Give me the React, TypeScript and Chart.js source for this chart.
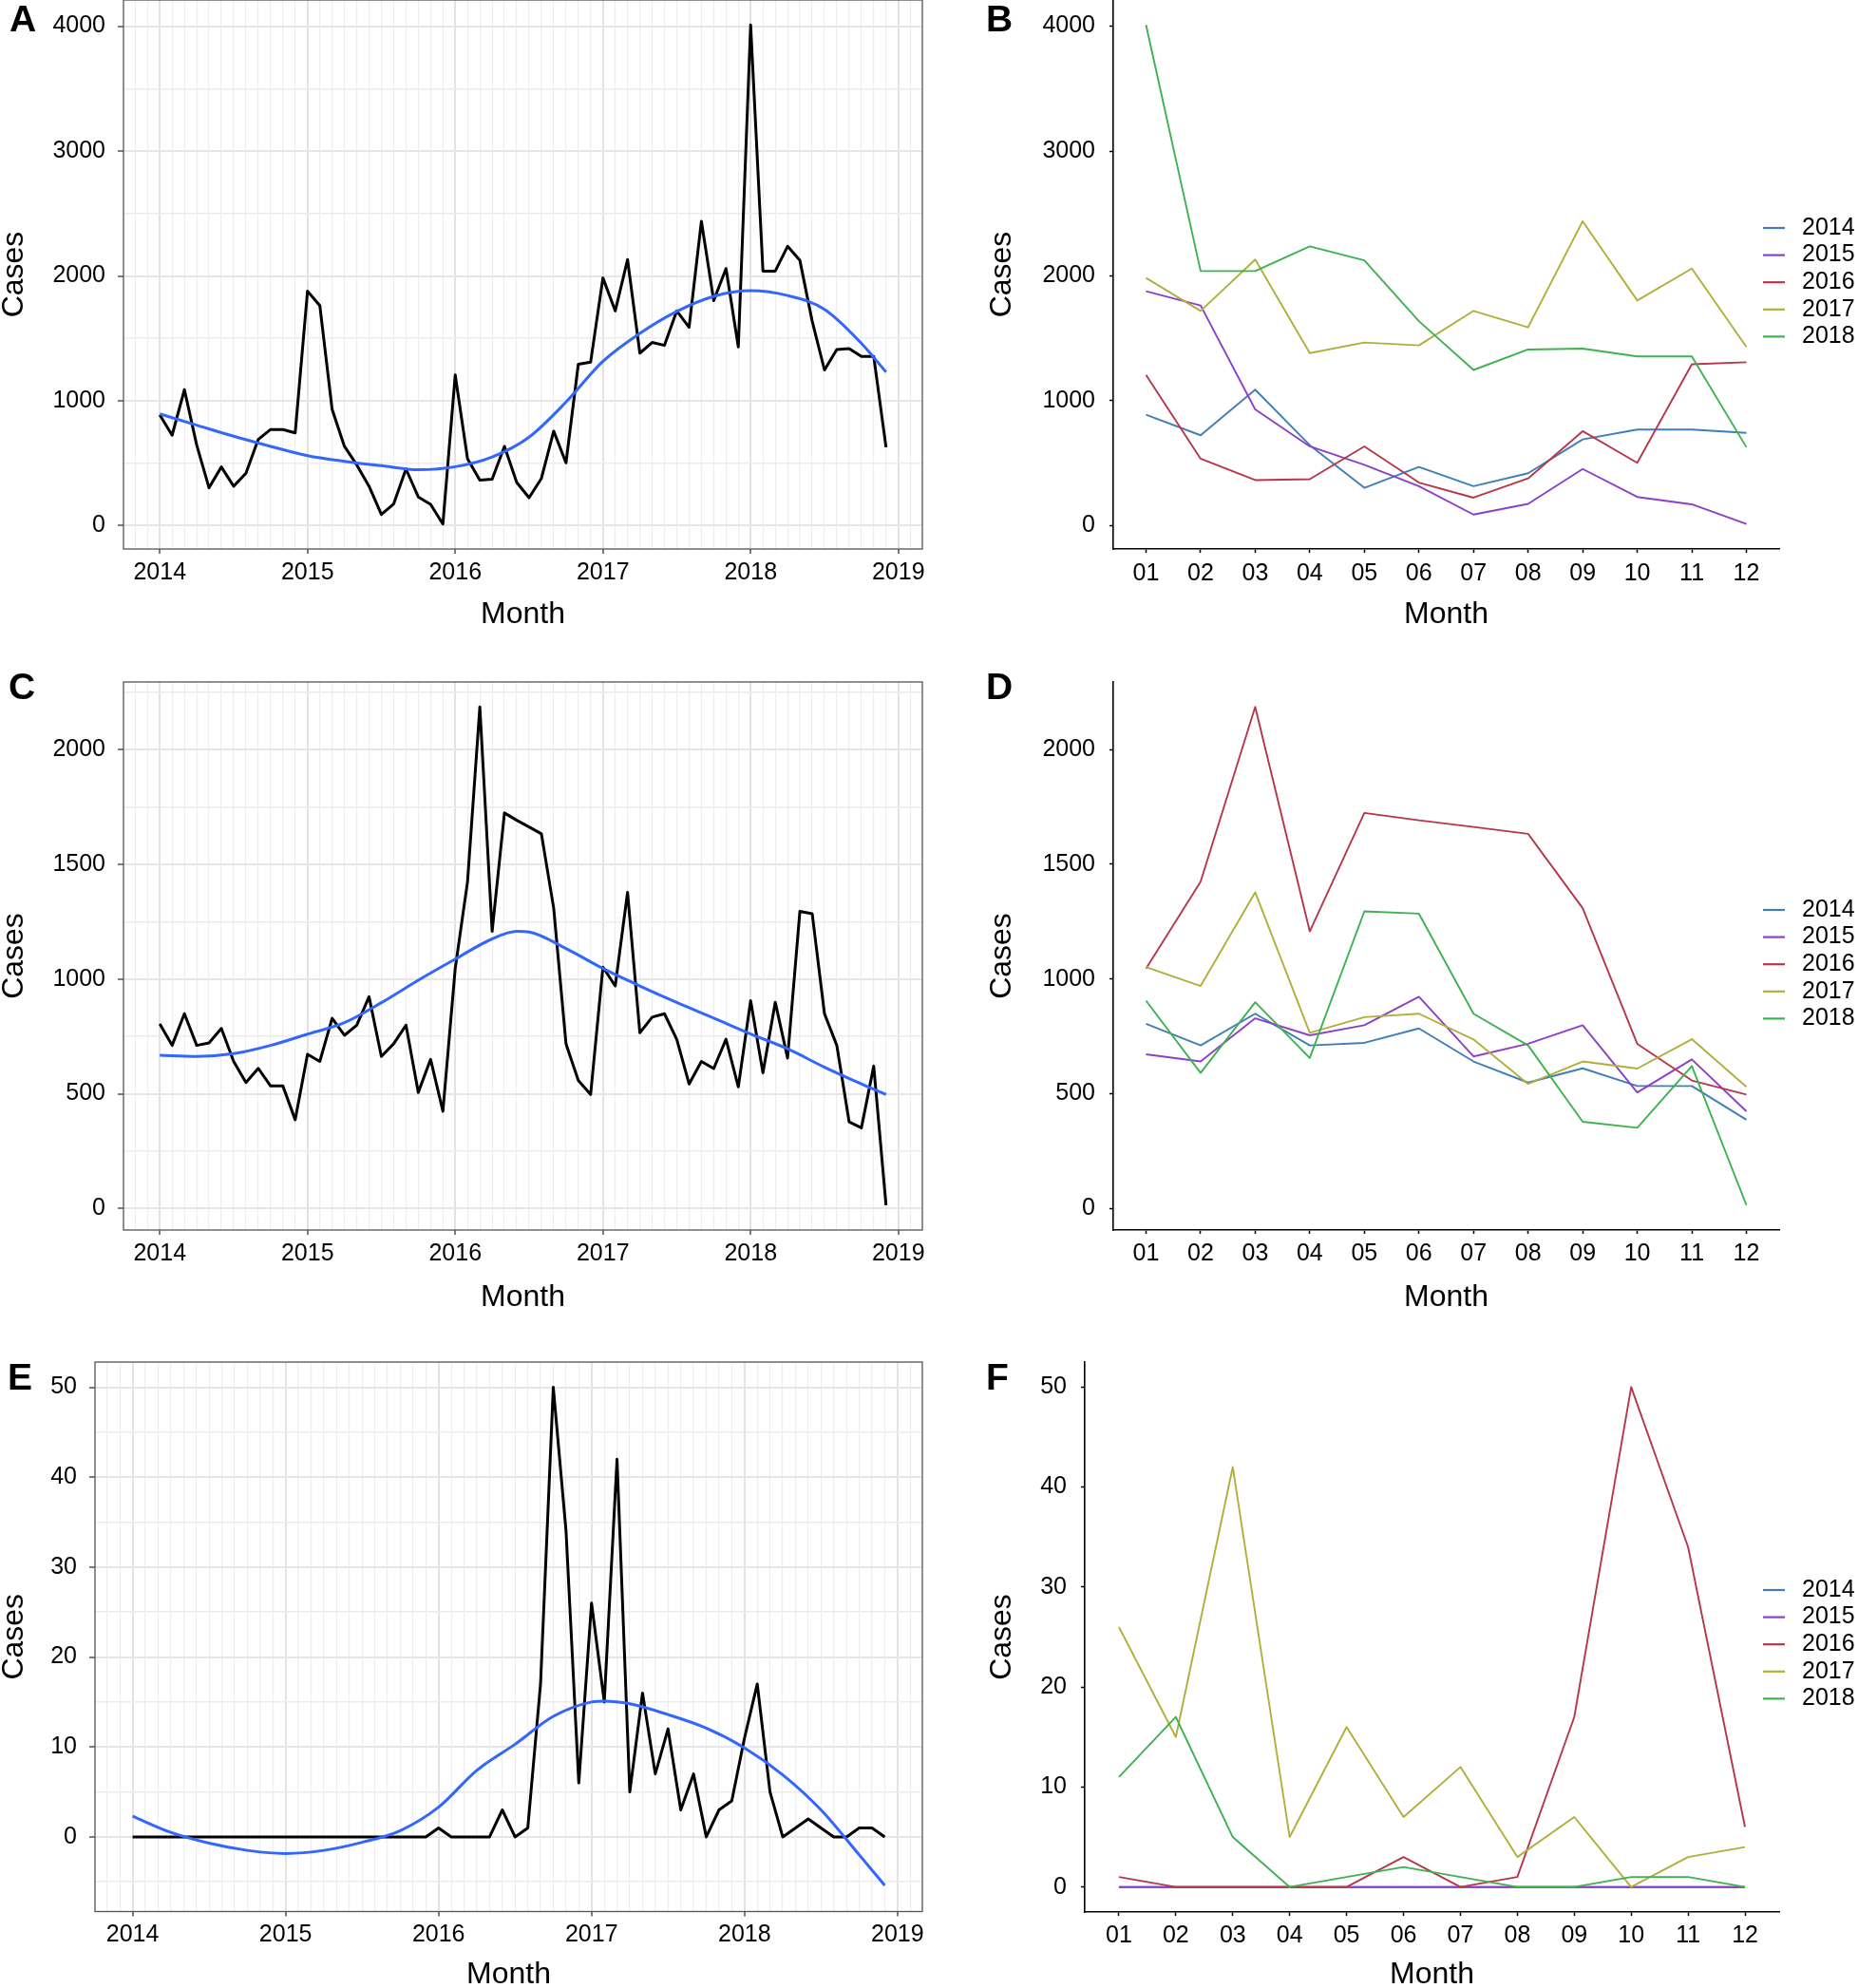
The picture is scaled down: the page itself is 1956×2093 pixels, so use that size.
import React, { useEffect, useRef } from 'react';
import { Chart, registerables } from 'chart.js';

Chart.register(...registerables);

const FONT = '"Liberation Sans", Arial, Helvetica, sans-serif';
Chart.defaults.font.family = FONT;

// ---------------- categories / labels ----------------
const YEARS = ['2014', '2015', '2016', '2017', '2018'];
const MONTH_LABELS = ['01', '02', '03', '04', '05', '06', '07', '08', '09', '10', '11', '12'];
const FIRST_YEAR = 2014;
const YEAR_COLORS = ['#3f7eb6', '#8b40c6', '#b5374c', '#b0af3c', '#3eb24f'];

// ---------------- Panels A / B (monthly cases) ----------------
const AB_2014 = [888, 724, 1089, 645, 303, 470, 316, 420, 691, 770, 770, 743];
const AB_2015 = [1878, 1763, 931, 635, 487, 316, 89, 174, 454, 230, 171, 13];
const AB_2016 = [1207, 536, 365, 372, 635, 345, 224, 378, 757, 503, 1293, 1309];
const AB_2017 = [1984, 1720, 2131, 1382, 1467, 1444, 1720, 1589, 2438, 1803, 2059, 1431];
const AB_2018 = [4010, 2039, 2039, 2237, 2125, 1638, 1247, 1411, 1418, 1355, 1355, 628];
// smooth trend (month index since Jan 2014 -> cases)
const AB_SMOOTH_MONTH = [0, 3, 6, 9, 12, 15, 18, 21, 24, 27, 30, 33, 36, 39, 42, 45, 48, 51, 54, 57, 59];
const AB_SMOOTH_CASES = [895, 805, 716, 635, 560, 515, 480, 448, 472, 550, 709, 990, 1316, 1540, 1716, 1837, 1882, 1843, 1732, 1460, 1230];

// ---------------- Panels C / D ----------------
const CD_2014 = [805, 711, 849, 711, 722, 785, 641, 549, 611, 534, 534, 387];
const CD_2015 = [672, 641, 829, 755, 799, 923, 663, 718, 799, 506, 650, 424];
const CD_2016 = [1046, 1424, 2186, 1208, 1724, 1692, 1663, 1633, 1309, 718, 558, 497];
const CD_2017 = [1052, 970, 1378, 766, 834, 849, 737, 543, 641, 610, 738, 530];
const CD_2018 = [906, 591, 899, 656, 1295, 1285, 849, 711, 378, 352, 621, 15];
const CD_SMOOTH_MONTH = [0, 3, 6, 9, 12, 15, 18, 21, 24, 27, 29, 30, 33, 36, 39, 42, 45, 48, 51, 54, 57, 59];
const CD_SMOOTH_CASES = [668, 663, 675, 711, 760, 810, 897, 995, 1087, 1175, 1208, 1205, 1133, 1046, 970, 898, 830, 761, 696, 616, 543, 497];

// ---------------- Panels E / F ----------------
const EF_2014 = [0, 0, 0, 0, 0, 0, 0, 0, 0, 0, 0, 0];
const EF_2015 = [0, 0, 0, 0, 0, 0, 0, 0, 0, 0, 0, 0];
const EF_2016 = [1, 0, 0, 0, 0, 3, 0, 1, 17, 50, 34, 6];
const EF_2017 = [26, 15, 42, 5, 16, 7, 12, 3, 7, 0, 3, 4];
const EF_2018 = [11, 17, 5, 0, 1, 2, 1, 0, 0, 1, 1, 0];
const EF_SMOOTH_MONTH = [0, 3, 6, 9, 12, 15, 18, 21, 24, 27, 30, 33, 36, 37, 39, 42, 45, 48, 51, 54, 57, 59];
const EF_SMOOTH_CASES = [2.3, 0.5, -0.7, -1.5, -1.85, -1.5, -0.6, 0.7, 3.3, 7.4, 10.3, 13.4, 15.0, 15.1, 14.8, 13.6, 12.1, 9.9, 6.9, 3.0, -2.0, -5.4];

// ---------------- axis ranges ----------------
const TIME_X_MIN = -2.95;
const TIME_X_MAX = 61.95;
const MONTH_X_MIN = 0.4;
const MONTH_X_MAX = 12.6;
const AB_Y = [-187, 4210];
const CD_Y = [-93.6, 2294.6];
const E_Y = [-8.3, 52.8];
const F_Y = [-2.5, 52.5];

// ---------------- helpers ----------------
type Box = {
  canvasLeft: number; canvasTop: number; canvasW: number; canvasH: number;
  plotLeft: number; plotTop: number; plotRight: number; plotBottom: number;
  xTickPad: number; xTitleCenter: number;
};

const isMult = (v: number, step: number) => Math.abs(v / step - Math.round(v / step)) < 1e-6;
const tv = (c: any): number | null => (c && c.tick ? c.tick.value : null);

// regular tick positions inside [min, max]
function stepTicks(min: number, max: number, step: number) {
  const out: { value: number }[] = [];
  const start = Math.ceil(min / step - 1e-9);
  const end = Math.floor(max / step + 1e-9);
  for (let k = start; k <= end; k++) out.push({ value: Math.round(k * step * 1e6) / 1e6 });
  return out;
}

const sideLegend = {
  id: 'sideLegend',
  afterDraw(chart: any, _args: any, opts: any) {
    if (!opts || !opts.show) return;
    const { ctx, chartArea } = chart;
    ctx.save();
    ctx.font = `25px ${FONT}`;
    ctx.textBaseline = 'middle';
    ctx.textAlign = 'left';
    chart.data.datasets.forEach((ds: any, i: number) => {
      const y = chartArea.top + opts.firstRow + i * opts.rowGap;
      ctx.strokeStyle = ds.borderColor;
      ctx.lineWidth = opts.lineWidth;
      ctx.beginPath();
      ctx.moveTo(opts.keyLeft, y);
      ctx.lineTo(opts.keyRight, y);
      ctx.stroke();
      ctx.fillStyle = '#000';
      ctx.fillText(ds.label, opts.textLeft, y);
    });
    ctx.restore();
  },
};

const panelBorder = {
  id: 'panelBorder',
  afterDraw(chart: any, _args: any, opts: any) {
    if (!opts || !opts.show) return;
    const { ctx } = chart;
    const { left, top, right, bottom } = chart.chartArea;
    ctx.save();
    ctx.strokeStyle = opts.color;
    ctx.lineWidth = opts.width;
    ctx.strokeRect(left, top, right - left, bottom - top);
    ctx.restore();
  },
};

function layoutFor(b: Box) {
  return {
    padding: {
      left: 0,
      top: b.plotTop - b.canvasTop,
      right: b.canvasLeft + b.canvasW - b.plotRight,
      bottom: 0,
    },
  };
}

function xTitle(b: Box) {
  const lh = 0.85;
  return {
    display: true,
    text: 'Month',
    color: '#000',
    font: { family: FONT, size: 32, lineHeight: lh },
    padding: { top: 0, bottom: b.canvasTop + b.canvasH - b.xTitleCenter - (32 * lh) / 2 },
  };
}

function yTitle() {
  return {
    display: true,
    text: 'Cases',
    color: '#000',
    font: { family: FONT, size: 32, lineHeight: 0.85 },
    padding: { top: 1.2, bottom: 0 },
  };
}

function timeConfig(b: Box, years: number[][], smM: number[], smV: number[], yr: number[], yStep: number, yLabelStep: number): any {
  const series = years.flat().map((v, i) => ({ x: i, y: v }));
  const smooth = smM.map((m, i) => ({ x: m, y: smV[i] }));
  return {
    type: 'line',
    data: {
      datasets: [
        { label: 'Cases', data: series, borderColor: '#000', backgroundColor: '#000', borderWidth: 3, pointRadius: 0, tension: 0, borderJoinStyle: 'round', fill: false, order: 2 },
        { label: 'Trend', data: smooth, borderColor: '#3366FF', backgroundColor: '#3366FF', borderWidth: 3, pointRadius: 0, cubicInterpolationMode: 'monotone', fill: false, order: 1 },
      ],
    },
    options: {
      responsive: false,
      maintainAspectRatio: false,
      animation: false,
      devicePixelRatio: 1,
      events: [],
      layout: layoutFor(b),
      plugins: {
        legend: { display: false },
        tooltip: { enabled: false },
        panelBorder: { show: true, color: '#555', width: 1.3 },
        sideLegend: { show: false },
      },
      scales: {
        x: {
          type: 'linear',
          min: TIME_X_MIN,
          max: TIME_X_MAX,
          afterBuildTicks: (s: any) => { s.ticks = stepTicks(TIME_X_MIN, TIME_X_MAX, 1); },
          ticks: {
            autoSkip: false,
            maxRotation: 0,
            minRotation: 0,
            padding: b.xTickPad,
            color: '#000',
            font: { family: FONT, size: 25 },
            callback: (v: any) => {
              const m = Math.round(Number(v));
              return m % 12 === 0 ? String(FIRST_YEAR + m / 12) : '';
            },
          },
          grid: {
            color: (c: any) => { const v = tv(c); return v !== null && isMult(v, 12) ? '#e3e3e3' : '#eeeeee'; },
            lineWidth: (c: any) => { const v = tv(c); return v !== null && isMult(v, 12) ? 2 : 1.2; },
            tickColor: (c: any) => { const v = tv(c); return v !== null && isMult(v, 12) ? '#444' : 'rgba(0,0,0,0)'; },
            tickLength: 5,
            tickWidth: 1.4,
            drawTicks: true,
          },
          border: { display: false },
          title: xTitle(b),
          afterFit: (s: any) => { s.height = b.canvasTop + b.canvasH - b.plotBottom; },
        },
        y: {
          type: 'linear',
          min: yr[0],
          max: yr[1],
          afterBuildTicks: (s: any) => { s.ticks = stepTicks(yr[0], yr[1], yStep); },
          ticks: {
            padding: 13,
            color: '#000',
            font: { family: FONT, size: 25 },
            callback: (v: any) => (isMult(Number(v), yLabelStep) ? String(Math.round(Number(v))) : ''),
          },
          grid: {
            color: (c: any) => { const v = tv(c); return v !== null && isMult(v, yLabelStep) ? '#e6e6e6' : '#ececec'; },
            lineWidth: (c: any) => { const v = tv(c); return v !== null && isMult(v, yLabelStep) ? 2 : 1.6; },
            tickColor: (c: any) => { const v = tv(c); return v !== null && isMult(v, yLabelStep) ? '#444' : 'rgba(0,0,0,0)'; },
            tickLength: 6,
            tickWidth: 1.4,
            drawTicks: true,
          },
          border: { display: false },
          title: yTitle(),
          afterFit: (s: any) => { s.width = b.plotLeft - b.canvasLeft; },
        },
      },
    },
    plugins: [panelBorder, sideLegend],
  };
}

function seasonConfig(b: Box, years: number[][], yr: number[], yStep: number): any {
  return {
    type: 'line',
    data: {
      datasets: years.map((vals, k) => ({
        label: YEARS[k],
        data: vals.map((v, i) => ({ x: i + 1, y: v })),
        borderColor: YEAR_COLORS[k],
        backgroundColor: YEAR_COLORS[k],
        borderWidth: 1.9,
        pointRadius: 0,
        tension: 0,
        borderJoinStyle: 'round',
        fill: false,
        order: years.length - k,
      })),
    },
    options: {
      responsive: false,
      maintainAspectRatio: false,
      animation: false,
      devicePixelRatio: 1,
      events: [],
      layout: layoutFor(b),
      plugins: {
        legend: { display: false },
        tooltip: { enabled: false },
        panelBorder: { show: false },
        sideLegend: { show: true, firstRow: 240, rowGap: 28.6, keyLeft: 816, keyRight: 839, textLeft: 857, lineWidth: 2.2 },
      },
      scales: {
        x: {
          type: 'linear',
          min: MONTH_X_MIN,
          max: MONTH_X_MAX,
          afterBuildTicks: (s: any) => { s.ticks = stepTicks(MONTH_X_MIN, MONTH_X_MAX, 1); },
          ticks: {
            autoSkip: false,
            maxRotation: 0,
            minRotation: 0,
            padding: b.xTickPad,
            color: '#000',
            font: { family: FONT, size: 25 },
            callback: (v: any) => MONTH_LABELS[Math.round(Number(v)) - 1] ?? '',
          },
          grid: { drawOnChartArea: false, drawTicks: true, tickLength: 4, tickColor: '#000', tickWidth: 1.5 },
          border: { display: true, color: '#000', width: 1.6 },
          title: xTitle(b),
          afterFit: (s: any) => { s.height = b.canvasTop + b.canvasH - b.plotBottom; },
        },
        y: {
          type: 'linear',
          min: yr[0],
          max: yr[1],
          afterBuildTicks: (s: any) => { s.ticks = stepTicks(yr[0], yr[1], yStep); },
          ticks: {
            padding: 15,
            color: '#000',
            font: { family: FONT, size: 25 },
            callback: (v: any) => String(Math.round(Number(v))),
          },
          grid: { drawOnChartArea: false, drawTicks: true, tickLength: 4, tickColor: '#000', tickWidth: 1.5 },
          border: { display: true, color: '#000', width: 1.6 },
          title: yTitle(),
          afterFit: (s: any) => { s.width = b.plotLeft - b.canvasLeft; },
        },
      },
    },
    plugins: [panelBorder, sideLegend],
  };
}

// ---------------- panel geometry ----------------
const BOX_A: Box = { canvasLeft: 0, canvasTop: -40, canvasW: 1000, canvasH: 730, plotLeft: 130, plotTop: 0, plotRight: 971, plotBottom: 578, xTickPad: 5.5, xTitleCenter: 647 };
const BOX_B: Box = { canvasLeft: 1040, canvasTop: -40, canvasW: 916, canvasH: 730, plotLeft: 1172, plotTop: 0, plotRight: 1873, plotBottom: 578, xTickPad: 7, xTitleCenter: 647 };
const BOX_C: Box = { canvasLeft: 0, canvasTop: 678, canvasW: 1000, canvasH: 712, plotLeft: 130, plotTop: 718, plotRight: 971, plotBottom: 1295, xTickPad: 5.5, xTitleCenter: 1366 };
const BOX_D: Box = { canvasLeft: 1040, canvasTop: 678, canvasW: 916, canvasH: 712, plotLeft: 1172, plotTop: 718, plotRight: 1873, plotBottom: 1295, xTickPad: 6, xTitleCenter: 1366 };
const BOX_E: Box = { canvasLeft: 0, canvasTop: 1394, canvasW: 1000, canvasH: 699, plotLeft: 100, plotTop: 1434, plotRight: 971, plotBottom: 2012.5, xTickPad: 4.5, xTitleCenter: 2079 };
const BOX_F: Box = { canvasLeft: 1040, canvasTop: 1394, canvasW: 916, canvasH: 699, plotLeft: 1142, plotTop: 1434, plotRight: 1873, plotBottom: 2013, xTickPad: 6, xTitleCenter: 2079 };

function ChartPanel({ box, build }: { box: Box; build: () => any }) {
  const ref = useRef<HTMLCanvasElement | null>(null);
  useEffect(() => {
    if (!ref.current) return;
    const chart = new Chart(ref.current, build());
    return () => chart.destroy();
  }, []);
  return (
    <canvas
      ref={ref}
      width={box.canvasW}
      height={box.canvasH}
      style={{ position: 'absolute', left: box.canvasLeft, top: box.canvasTop, width: box.canvasW, height: box.canvasH }}
    />
  );
}

const LETTERS = [
  { t: 'A', left: 10, top: 0 },
  { t: 'B', left: 1038, top: 0 },
  { t: 'C', left: 9, top: 703 },
  { t: 'D', left: 1038, top: 703 },
  { t: 'E', left: 8, top: 1430 },
  { t: 'F', left: 1038, top: 1430 },
];

export default function App() {
  const AB = [AB_2014, AB_2015, AB_2016, AB_2017, AB_2018];
  const CD = [CD_2014, CD_2015, CD_2016, CD_2017, CD_2018];
  const EF = [EF_2014, EF_2015, EF_2016, EF_2017, EF_2018];
  return (
    <div style={{ position: 'absolute', left: 0, top: 0, width: 1956, height: 2093, overflow: 'hidden', background: '#fff' }}>
      <ChartPanel box={BOX_A} build={() => timeConfig(BOX_A, AB, AB_SMOOTH_MONTH, AB_SMOOTH_CASES, AB_Y, 500, 1000)} />
      <ChartPanel box={BOX_B} build={() => seasonConfig(BOX_B, AB, AB_Y, 1000)} />
      <ChartPanel box={BOX_C} build={() => timeConfig(BOX_C, CD, CD_SMOOTH_MONTH, CD_SMOOTH_CASES, CD_Y, 250, 500)} />
      <ChartPanel box={BOX_D} build={() => seasonConfig(BOX_D, CD, CD_Y, 500)} />
      <ChartPanel box={BOX_E} build={() => timeConfig(BOX_E, EF, EF_SMOOTH_MONTH, EF_SMOOTH_CASES, E_Y, 5, 10)} />
      <ChartPanel box={BOX_F} build={() => seasonConfig(BOX_F, EF, F_Y, 10)} />
      {LETTERS.map((l) => (
        <div
          key={l.t}
          style={{ position: 'absolute', left: l.left, top: l.top, fontFamily: FONT, fontWeight: 700, fontSize: 39, lineHeight: '39px', color: '#000' }}
        >
          {l.t}
        </div>
      ))}
    </div>
  );
}
